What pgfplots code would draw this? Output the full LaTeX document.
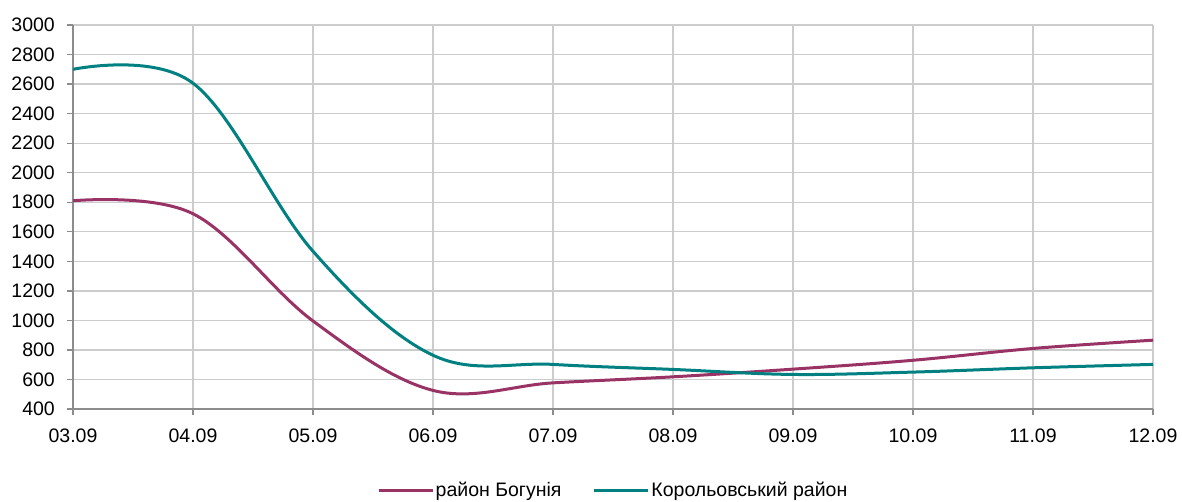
\documentclass[border=0pt]{standalone}
\usepackage{pgfplots}
\pgfplotsset{compat=1.18}
\usepackage{fontspec}
\setmainfont{Liberation Sans}
\definecolor{bog}{HTML}{993366}
\definecolor{kor}{HTML}{008080}
\definecolor{gridc}{HTML}{CCCCCC}
\definecolor{axc}{HTML}{8C8C8C}
\begin{document}
\begin{tikzpicture}
\begin{axis}[
  name=ax,
  scale only axis, width=1080pt, height=384pt,
  xmin=0, xmax=9, ymin=400, ymax=3000,
  xtick={0,...,9},
  xticklabels={03.09,04.09,05.09,06.09,07.09,08.09,09.09,10.09,11.09,12.09},
  ytick={400,600,...,3000},
  grid=major, major grid style={gridc, line width=1.3pt},
  axis x line=bottom, axis y line=left,
  axis line style={axc, line width=1.3pt, -},
  tick style={axc, line width=1.3pt}, tick align=outside, major tick length=6pt,
  font=\fontsize{19.5}{23}\selectfont,
  /pgf/number format/assume math mode=true,
  /pgf/number format/1000 sep={},
  yticklabel style={inner sep=0pt, xshift=-12pt},
  xticklabel style={inner sep=0pt, yshift=-14pt},
  legend style={at={(0.5,-0.212)}, anchor=center, legend columns=2, draw=none,
    font=\fontsize{19.5}{23}\selectfont,
    /tikz/every even column/.append style={column sep=30pt},
    nodes={inner sep=1.5pt}},
  legend image code/.code={\draw[#1, line width=3pt] (0pt,0pt) -- (54pt,0pt);},
]
\addplot[bog, line width=3pt, smooth, tension=0.6] coordinates {
 (0,1810) (1,1722) (2,996) (3,526) (4,577) (5,618) (6,670) (7,730) (8,810) (9,866)};
\addlegendentry{район Богунія}
\addplot[kor, line width=3pt, smooth, tension=0.6] coordinates {
 (0,2700) (1,2606) (2,1468) (3,764) (4,702) (5,668) (6,634) (7,650) (8,679) (9,702)};
\addlegendentry{Корольовський район}
\end{axis}
\path ([shift={(-73pt,-92pt)}]ax.south west) rectangle ([shift={(29pt,25pt)}]ax.north east);
\end{tikzpicture}
\end{document}
